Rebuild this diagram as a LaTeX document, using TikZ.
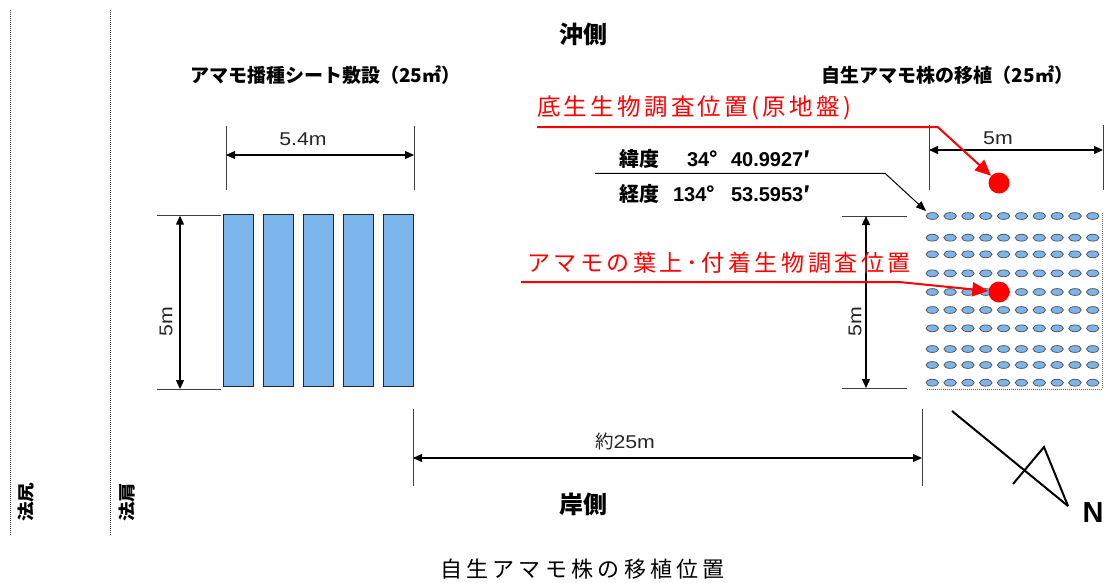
\documentclass[tikz,border=0pt]{standalone}
\usepackage{fontspec}
\usepackage{graphicx}
\setmainfont{Liberation Sans}
\newfontfamily\jp{Noto Sans CJK JP}
\newfontfamily\lat[FakeStretch=1.15]{Liberation Sans}
\usetikzlibrary{arrows.meta,shapes.geometric}
\definecolor{sheetblue}{RGB}{124,180,236}
\newcommand\fsz[1]{\fontsize{#1}{#1}\selectfont}
\newlength\lsam
\def\spaced#1#2{\lsam=#1\relax\spacedA#2\relax}
\def\spacedA#1{\ifx#1\relax\else#1\kern\lsam\expandafter\spacedA\fi}
\begin{document}
\begin{tikzpicture}[x=1pt,y=-1pt,
  dimtick/.style={draw=black!75, line width=1pt},
  dimarrow/.style={draw=black, line width=1.2pt, {Triangle[length=9pt,width=8pt]}-{Triangle[length=9pt,width=8pt]}},
  sheet/.style={draw=black!85, line width=1pt, fill=sheetblue, inner sep=0pt, minimum width=29.5pt, minimum height=171.5pt, anchor=north west},
  plant/.style={ellipse, draw=black!65, line width=0.8pt, fill=sheetblue, minimum width=12.5pt, minimum height=6.8pt, inner sep=0pt},
  reddot/.style={circle, fill=red, minimum size=21pt, inner sep=0pt},
  redline/.style={draw=red, line width=2pt, -{Triangle[length=16pt,width=14pt]}},
  lbl/.style={inner sep=0pt, outer sep=0pt},
  guide/.style={draw=black!75, line width=0.8pt, dash pattern=on 1pt off 1pt},
  frame/.style={draw=black!60, line width=0.6pt, dash pattern=on 1pt off 1pt},
  dimlbl/.style={lbl, text=black!85, font=\lat\fsz{18.5pt}},
  boldjp/.style={lbl, font=\jp\bfseries\fsz{19pt}},
  sidelbl/.style={lbl, rotate=90, font=\jp\bfseries\fsz{17pt}},
]
\useasboundingbox (0,0) rectangle (1107,582);

% slope guide lines
\coordinate (g1t) at (10,10); \coordinate (g1b) at (10,535);
\coordinate (g2t) at (110,10); \coordinate (g2b) at (110,535);
\draw[guide] (g1t) -- (g1b);
\draw[guide] (g2t) -- (g2b);
\node[sidelbl] (hojiri) at (26,502) {\scalebox{1.15}[1]{法尻}};
\node[sidelbl] (hokata) at (127.5,502) {\scalebox{1.15}[1]{法肩}};

% headings
\node[lbl, font=\jp\bfseries\fsz{24pt}] (oki) at (583,34) {沖側};
\node[lbl, font=\jp\bfseries\fsz{24pt}] (kishi) at (583,504) {岸側};
\node[boldjp, anchor=west] (t1) at (190,75) {アマモ播種シート敷設（25㎡）};
\node[boldjp, anchor=east] (t2) at (1073,75) {自生アマモ株の移植（25㎡）};

% seeding sheets
\foreach \i/\x in {1/223,2/263.3,3/303.3,4/343.3,5/383.3}
  \node[sheet] (s\i) at (\x,214) {};

% 5.4m dimension
\coordinate (a1t) at (226,126); \coordinate (a1b) at (226,190);
\coordinate (a2t) at (414,126); \coordinate (a2b) at (414,190);
\draw[dimtick] (a1t) -- (a1b);
\draw[dimtick] (a2t) -- (a2b);
\coordinate (a1) at (226,155); \coordinate (a2) at (414,155);
\draw[dimarrow] (a1) -- (a2);
\node[dimlbl] (l54) at (303,139) {5.4m};

% left 5m dimension
\coordinate (b1l) at (157,215.7); \coordinate (b1r) at (221,215.7);
\coordinate (b2l) at (157,389); \coordinate (b2r) at (221,389);
\draw[dimtick] (b1l) -- (b1r);
\draw[dimtick] (b2l) -- (b2r);
\coordinate (b1) at (180,215.7); \coordinate (b2) at (180,389);
\draw[dimarrow] (b1) -- (b2);
\node[dimlbl, rotate=90] (l5a) at (166,322) {5m};

% right 5m vertical dimension
\coordinate (c1l) at (842,216); \coordinate (c1r) at (907,216);
\coordinate (c2l) at (842,388); \coordinate (c2r) at (907,388);
\draw[dimtick] (c1l) -- (c1r);
\draw[dimtick] (c2l) -- (c2r);
\coordinate (c1) at (866,216); \coordinate (c2) at (866,388);
\draw[dimarrow] (c1) -- (c2);
\node[dimlbl, rotate=90] (l5b) at (855,322) {5m};

% right 5m horizontal dimension
\coordinate (e1t) at (929,125); \coordinate (e1b) at (929,190);
\coordinate (e2t) at (1103,125); \coordinate (e2b) at (1103,190);
\draw[dimtick] (e1t) -- (e1b);
\draw[dimtick] (e2t) -- (e2b);
\coordinate (e1) at (929,150); \coordinate (e2) at (1103,150);
\draw[dimarrow] (e1) -- (e2);
\node[dimlbl] (l5c) at (998,138) {5m};

% 25m dimension
\coordinate (f1t) at (413,409); \coordinate (f1b) at (413,486);
\coordinate (f2t) at (922,409); \coordinate (f2b) at (922,486);
\draw[dimtick] (f1t) -- (f1b);
\draw[dimtick] (f2t) -- (f2b);
\coordinate (f1) at (413,458); \coordinate (f2) at (922,458);
\draw[dimarrow] (f1) -- (f2);
\node[dimlbl] (l25) at (625,441) {{\jp\fsz{18.5pt}約}25m};

% transplanted plants
\coordinate (fr1) at (1102,213); \coordinate (fr2) at (1102,389); \coordinate (fr3) at (927,389);
\draw[frame] (fr1) -- (fr2) -- (fr3);
\foreach \r [count=\j] in {216,237.7,254.3,273.3,292,310,328.3,349,365,382.7}
  \foreach \c in {0,...,9}
    \node[plant] (p\j-\c) at ({932.3+\c*17.83},\r) {};

% coordinates label
\node[lbl, anchor=west, font=\jp\bfseries\fsz{20pt}] (lat1) at (619,159) {緯度};
\node[lbl, anchor=west, font=\bfseries\fsz{20pt}] (lat2) at (687,159) {34{\jp °}};
\node[lbl, anchor=west, font=\bfseries\fsz{20pt}] (lat3) at (731,159) {40.9927{\jp ′}};
\node[lbl, anchor=west, font=\jp\bfseries\fsz{20pt}] (lon1) at (619,194) {経度};
\node[lbl, anchor=west, font=\bfseries\fsz{20pt}] (lon2) at (673,194) {134{\jp °}};
\node[lbl, anchor=west, font=\bfseries\fsz{20pt}] (lon3) at (731,194) {53.5953{\jp ′}};
\coordinate (k1) at (595,173.3); \coordinate (k2) at (885,173.3); \coordinate (k3) at (926,211);
\draw[black, line width=1pt, -{Triangle[length=10pt,width=8pt]}] (k1) -- (k2) -- (k3);

% survey points
\node[reddot] (dot1) at (999,183) {};
\node[reddot] (dot2) at (999,292) {};
\node[lbl, anchor=west, text=red, font=\jp\fsz{23.5pt}] (rt1) at (537,107.5) {\spaced{3.3pt}{底生生物調査位置(原地盤)}};
\node[lbl, anchor=west, text=red, font=\jp\fsz{23pt}] (rt2) at (527,262.5) {\spaced{3.6pt}{アマモの葉上･付着生物調査位置}};
\coordinate (r1a) at (537,127); \coordinate (r1b) at (937.7,127);
\draw[redline] (r1a) -- (r1b) -- (dot1);
\coordinate (r2a) at (521,282); \coordinate (r2b) at (899,282);
\draw[redline] (r2a) -- (r2b) -- (dot2);

% north arrow
\coordinate (n1) at (952,411); \coordinate (n2) at (1068,506);
\coordinate (n3) at (1013,484); \coordinate (n4) at (1044,447);
\draw[line width=2pt] (n1) -- (n2);
\draw[line width=2pt, line join=miter] (n3) -- (n4) -- (n2);
\node[lbl, font=\bfseries\fsz{29pt}] (north) at (1093,512.5) {N};

% caption
\node[lbl, anchor=west, font=\jp\fsz{22pt}] (cap) at (440,569) {\spaced{4.3pt}{自生アマモ株の移植位置}};
\end{tikzpicture}
\end{document}
